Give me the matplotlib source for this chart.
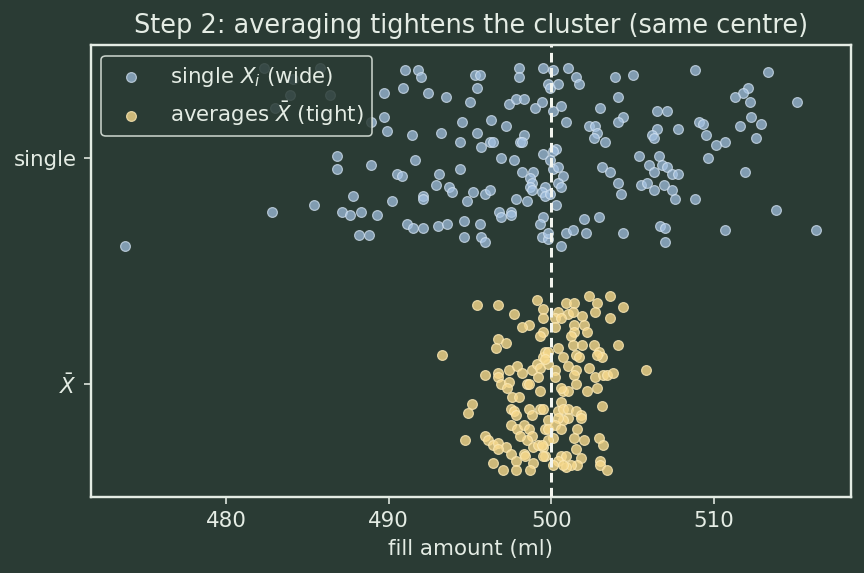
import numpy as np
import matplotlib
matplotlib.use('Agg')
import matplotlib.pyplot as plt

# single fills X_i (ml) and their vertical jitter (category units, + = up)
single_x = [
    482.3, 485.8, 484.1, 483.9, 486.4, 483.0, 488.9, 482.8, 473.8,
    491.0, 491.8, 492.0, 489.7, 490.9, 492.4, 493.5, 495.0, 489.7, 489.9,
    491.4, 493.2, 494.5, 494.4, 486.8, 486.8, 488.9, 491.6, 490.5, 490.8,
    493.1, 492.9, 493.7, 493.9, 494.4, 492.1, 492.1, 490.2, 487.8, 485.4,
    487.1, 487.6, 488.3, 489.3, 494.8, 494.6, 491.1, 491.5, 492.1, 493.0,
    493.6, 488.2, 488.8, 494.6,
    495.3, 495.6, 495.4, 498.0, 498.0, 499.5, 500.1, 501.0, 501.5, 501.7,
    499.8, 499.9, 500.4, 503.9, 505.0, 504.1, 497.4, 497.8, 498.3, 499.0,
    499.4, 500.1, 500.6, 503.0, 504.4, 504.1, 496.3, 497.2, 500.9, 502.3,
    502.7, 502.8, 502.6, 503.3, 495.4, 498.3, 498.1, 498.2, 496.2, 496.4,
    495.7, 496.9, 497.7, 499.5, 500.3, 500.1, 499.9, 500.1, 500.4, 498.2,
    498.9, 498.7, 498.8, 498.7, 498.8, 500.7, 500.4, 500.6, 499.6, 499.4,
    499.6, 499.9, 503.1, 503.6, 504.1, 504.3, 505.4, 506.0, 505.5, 505.9,
    495.2, 495.9, 496.2, 497.8, 498.5, 500.3, 496.8, 496.9, 497.5, 497.5,
    499.5, 499.3, 495.6, 495.7, 495.9, 502.0, 502.9, 499.4, 499.8, 499.8,
    500.9, 501.3, 502.1, 504.4, 500.6,
    508.8, 513.3, 512.1, 511.8, 511.3, 512.2, 515.1, 506.5, 507.1, 509.1,
    509.3, 512.3, 511.6, 512.9, 512.6, 506.5, 507.8, 506.2, 506.3, 509.5,
    510.1, 510.7, 509.6, 506.6, 506.8, 507.1, 507.4, 507.8, 506.3, 511.9,
    506.3, 506.9, 507.4, 507.6, 508.8, 513.8, 506.7, 507.0, 510.7, 507.0,
    516.3,
]
single_jit = [
    0.40, 0.40, 0.35, 0.28, 0.28, 0.22, 0.16, -0.24, -0.39,
    0.39, 0.39, 0.36, 0.29, 0.31, 0.29, 0.27, 0.25, 0.18, 0.12,
    0.10, 0.11, 0.16, 0.07, 0.01, -0.05, -0.03, -0.01, -0.07, -0.08,
    -0.07, -0.12, -0.13, -0.15, -0.05, -0.17, -0.18, -0.19, -0.17, -0.21,
    -0.24, -0.25, -0.24, -0.25, -0.19, -0.28, -0.29, -0.31, -0.31, -0.30,
    -0.29, -0.34, -0.34, -0.35,
    0.37, 0.37, 0.31, 0.40, 0.36, 0.40, 0.39, 0.40, 0.36, 0.33,
    0.33, 0.31, 0.33, 0.36, 0.37, 0.27, 0.24, 0.26, 0.26, 0.22,
    0.25, 0.21, 0.23, 0.22, 0.18, 0.16, 0.17, 0.14, 0.16, 0.14,
    0.14, 0.11, 0.09, 0.07, 0.11, 0.10, 0.07, 0.07, 0.07, 0.07,
    0.05, 0.00, -0.01, 0.02, 0.04, 0.03, -0.01, -0.05, -0.04, -0.06,
    -0.06, -0.09, -0.11, -0.13, -0.14, -0.08, -0.11, -0.13, -0.13, -0.15,
    -0.17, -0.16, -0.04, -0.06, -0.11, -0.16, 0.01, -0.03, -0.12, -0.11,
    -0.15, -0.16, -0.14, -0.18, -0.19, -0.21, -0.24, -0.26, -0.24, -0.25,
    -0.26, -0.29, -0.29, -0.35, -0.37, -0.27, -0.26, -0.35, -0.36, -0.33,
    -0.33, -0.32, -0.33, -0.33, -0.39,
    0.39, 0.38, 0.31, 0.29, 0.27, 0.25, 0.25, 0.21, 0.21, 0.16,
    0.15, 0.18, 0.14, 0.15, 0.09, 0.13, 0.13, 0.10, 0.09, 0.10,
    0.06, 0.07, 0.00, 0.01, -0.03, -0.04, -0.07, -0.07, -0.06, -0.06,
    -0.14, -0.12, -0.14, -0.18, -0.18, -0.23, -0.30, -0.31, -0.32, -0.37,
    -0.32,
]

# sample means X-bar (ml) and their jitter
avg_x = [
    495.4, 496.7, 497.7, 499.1, 499.5, 499.5, 498.6, 498.2, 499.5, 499.3,
    496.7, 496.6, 497.2, 493.3, 495.9, 496.7, 496.7, 496.9, 497.4, 497.9,
    498.2, 497.4, 497.3, 497.6, 498.0, 498.5, 498.6, 498.8, 499.1, 499.3,
    499.2, 499.5, 499.6, 499.8, 499.3, 495.1, 494.9, 497.5, 497.7, 497.8,
    498.6, 498.8, 499.3, 497.5, 494.7, 495.9, 496.1, 496.4, 496.7, 497.2,
    496.7, 497.9, 498.3, 498.6, 498.8, 498.5, 498.1, 498.9, 499.2, 499.5,
    499.6, 497.5, 497.8, 498.3, 498.4, 498.9, 496.4, 497.0, 497.8, 498.7,
    499.6, 499.8,
    502.3, 503.6, 504.4, 502.8, 502.7, 503.6, 500.9, 501.4, 500.4, 501.0,
    501.3, 500.2, 500.6, 501.9, 502.0, 501.4, 501.4, 502.2, 500.2, 501.2,
    504.1, 502.6, 502.9, 503.1, 502.8, 501.3, 501.9, 501.5, 501.7, 500.4,
    500.7, 499.8, 499.6, 501.0, 501.5, 501.4, 501.5, 502.3, 502.7, 503.2,
    503.4, 503.8, 505.8, 502.2, 502.8, 500.7, 501.0, 500.6, 500.2, 500.2,
    503.1, 500.6, 500.4, 500.7, 501.0, 501.5, 501.8, 501.8, 501.0, 500.7,
    500.4, 499.5, 499.8, 500.2, 500.6, 501.6, 501.4, 502.0, 502.9, 503.2,
    500.1, 499.8, 501.5, 500.6, 500.9, 500.4, 501.8, 501.6, 501.2, 500.9,
    500.7, 503.0, 503.0, 503.4, 499.4, 499.5, 500.1,
]
avg_jit = [
    0.35, 0.35, 0.31, 0.37, 0.33, 0.29, 0.26, 0.25, 0.23, 0.21,
    0.20, 0.16, 0.18, 0.13, 0.04, 0.05, 0.03, 0.00, 0.06, 0.08,
    0.05, 0.01, -0.02, -0.06, -0.06, 0.00, -0.00, 0.06, 0.09, 0.07,
    0.03, 0.12, 0.14, 0.09, -0.03, -0.09, -0.13, -0.11, -0.12, -0.14,
    -0.11, -0.14, -0.11, -0.18, -0.25, -0.23, -0.25, -0.27, -0.26, -0.28,
    -0.29, -0.20, -0.18, -0.20, -0.23, -0.25, -0.23, -0.28, -0.27, -0.28,
    -0.20, -0.31, -0.34, -0.31, -0.32, -0.35, -0.35, -0.38, -0.38, -0.38,
    -0.32, -0.16,
    0.39, 0.39, 0.34, 0.36, 0.32, 0.29, 0.36, 0.36, 0.32, 0.31,
    0.32, 0.29, 0.29, 0.30, 0.26, 0.26, 0.23, 0.23, 0.25, 0.21,
    0.17, 0.17, 0.14, 0.12, 0.13, 0.17, 0.17, 0.13, 0.12, 0.16,
    0.12, 0.14, 0.11, 0.08, 0.06, 0.04, 0.00, 0.07, 0.03, 0.04,
    0.04, 0.05, 0.06, -0.03, -0.02, -0.03, -0.03, -0.02, 0.06, 0.03,
    -0.10, -0.08, -0.12, -0.11, -0.11, -0.12, -0.14, -0.15, -0.15, -0.16,
    -0.15, -0.11, -0.20, -0.18, -0.20, -0.20, -0.24, -0.25, -0.24, -0.27,
    -0.24, -0.25, -0.29, -0.32, -0.32, -0.34, -0.33, -0.36, -0.36, -0.37,
    -0.36, -0.34, -0.36, -0.38, -0.27, -0.32, -0.36,
]

categories = ['single', r'$\bar{X}$']
target = 500

bg = '#2a3b34'
fg = '#e4ece4'

plt.rcParams['font.family'] = 'DejaVu Sans'
fig = plt.figure(figsize=(6, 3.98), dpi=144, facecolor=bg)
ax = fig.add_axes([0.105, 0.133, 0.88, 0.788])
ax.set_facecolor(bg)

ax.scatter(single_x, 0 - np.array(single_jit), s=24, color='#a4c2e2',
           edgecolor='#d4e3f2', linewidth=0.6, alpha=0.72,
           label=r'single $X_i$ (wide)', zorder=2)
ax.scatter(avg_x, 1 - np.array(avg_jit), s=24, color='#f7d98c',
           edgecolor='#fbe8b4', linewidth=0.6, alpha=0.8,
           label=r'averages $\bar{X}$ (tight)', zorder=2)

ax.axvline(target, color='#f2f4ee', linestyle='--', linewidth=1.5,
           dashes=(3.2, 1.8), zorder=3)

ax.set_yticks([0, 1])
ax.set_yticklabels(categories)
ax.set_ylim(1.5, -0.5)
ax.set_xticks([480, 490, 500, 510])

ax.set_title('Step 2: averaging tightens the cluster (same centre)',
             color=fg, fontsize=12.8)
ax.set_xlabel('fill amount (ml)', color=fg, fontsize=10.7)
ax.tick_params(colors=fg, labelsize=10.7)
for sp in ax.spines.values():
    sp.set_color(fg)
    sp.set_linewidth(1.2)

leg = ax.legend(loc='upper left', fontsize=10.7, facecolor=bg,
                edgecolor=fg, labelcolor=fg, framealpha=0.85)
leg.get_frame().set_linewidth(0.8)

fig.savefig('out.png', dpi=144, facecolor=bg)
